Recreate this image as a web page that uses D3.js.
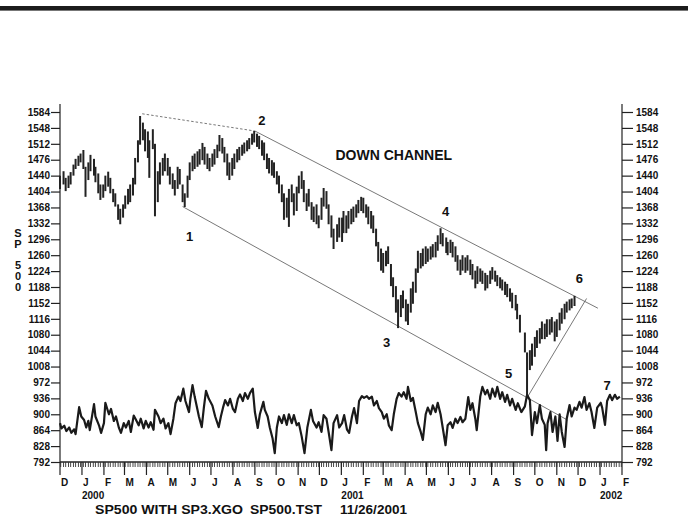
<!DOCTYPE html>
<html><head><meta charset="utf-8">
<script src="https://cdn.jsdelivr.net/npm/d3@7"></script>
<style>
body{margin:0;background:#fff}
svg{display:block}
text{font-family:"Liberation Sans",Arial,Helvetica,sans-serif;fill:#111}
</style>
</head><body>
<svg id="c" width="688" height="519"></svg>
<script>
// ---------- DATA ----------
// S&P 500 bars: [date, high, low]
const priceBars = [
["1999-12-01",1440,1410],["1999-12-06",1450,1420],["1999-12-09",1435,1405],["1999-12-13",1440,1412],["1999-12-16",1448,1420],
["1999-12-20",1465,1440],["1999-12-23",1478,1455],["1999-12-27",1485,1462],["1999-12-30",1490,1470],
["2000-01-03",1498,1455],["2000-01-06",1460,1392],["2000-01-10",1470,1430],["2000-01-13",1487,1450],["2000-01-18",1478,1440],
["2000-01-20",1460,1425],["2000-01-24",1445,1400],["2000-01-27",1420,1385],["2000-01-31",1420,1390],
["2000-02-03",1440,1405],["2000-02-07",1449,1415],["2000-02-10",1435,1400],["2000-02-14",1410,1380],["2000-02-17",1400,1370],
["2000-02-21",1375,1340],["2000-02-24",1365,1330],["2000-02-28",1375,1345],
["2000-03-02",1395,1365],["2000-03-06",1410,1375],["2000-03-09",1420,1380],["2000-03-13",1435,1395],["2000-03-16",1480,1420],
["2000-03-20",1520,1470],["2000-03-23",1575,1510],["2000-03-27",1560,1520],["2000-03-30",1545,1495],
["2000-04-03",1540,1480],["2000-04-05",1520,1435],["2000-04-10",1545,1500],["2000-04-13",1512,1348],["2000-04-17",1450,1380],
["2000-04-20",1470,1420],["2000-04-24",1480,1440],["2000-04-27",1490,1450],
["2000-05-01",1480,1440],["2000-05-04",1460,1420],["2000-05-08",1445,1410],["2000-05-11",1430,1395],["2000-05-15",1460,1410],
["2000-05-18",1455,1420],["2000-05-22",1420,1380],["2000-05-25",1400,1369],["2000-05-29",1440,1390],
["2000-06-01",1470,1430],["2000-06-05",1485,1450],["2000-06-08",1490,1455],["2000-06-12",1495,1460],["2000-06-15",1500,1465],
["2000-06-19",1514,1475],["2000-06-22",1505,1465],["2000-06-26",1490,1455],["2000-06-29",1480,1450],
["2000-07-03",1490,1460],["2000-07-06",1500,1465],["2000-07-10",1510,1480],["2000-07-13",1532,1495],["2000-07-17",1525,1490],
["2000-07-20",1505,1470],["2000-07-24",1490,1440],["2000-07-27",1470,1430],["2000-07-31",1480,1440],
["2000-08-03",1490,1455],["2000-08-07",1500,1470],["2000-08-10",1505,1475],["2000-08-14",1510,1485],["2000-08-17",1515,1490],
["2000-08-21",1520,1495],["2000-08-24",1525,1500],["2000-08-28",1535,1510],["2000-08-31",1541,1515],
["2000-09-04",1535,1505],["2000-09-07",1530,1500],["2000-09-11",1520,1485],["2000-09-14",1515,1475],["2000-09-18",1490,1455],
["2000-09-21",1480,1445],["2000-09-25",1475,1440],["2000-09-28",1470,1435],
["2000-10-02",1450,1420],["2000-10-05",1440,1400],["2000-10-09",1420,1380],["2000-10-12",1400,1340],["2000-10-16",1390,1345],
["2000-10-19",1410,1324],["2000-10-23",1420,1380],["2000-10-26",1400,1350],["2000-10-30",1415,1360],
["2000-11-02",1440,1400],["2000-11-06",1450,1410],["2000-11-09",1430,1380],["2000-11-13",1400,1360],["2000-11-16",1410,1370],
["2000-11-20",1380,1340],["2000-11-23",1370,1335],["2000-11-27",1375,1330],["2000-11-30",1350,1321],
["2000-12-04",1390,1340],["2000-12-07",1412,1370],["2000-12-11",1405,1365],["2000-12-14",1375,1330],["2000-12-18",1350,1300],
["2000-12-21",1320,1274],["2000-12-26",1330,1290],["2000-12-29",1345,1300],
["2001-01-02",1345,1290],["2001-01-04",1360,1310],["2001-01-08",1350,1310],["2001-01-11",1360,1320],["2001-01-15",1365,1330],
["2001-01-18",1370,1335],["2001-01-22",1375,1345],["2001-01-25",1385,1355],["2001-01-29",1392,1360],
["2001-02-01",1390,1355],["2001-02-05",1375,1345],["2001-02-08",1370,1330],["2001-02-12",1360,1320],["2001-02-15",1350,1310],
["2001-02-19",1320,1280],["2001-02-22",1290,1245],["2001-02-26",1275,1225],
["2001-03-01",1265,1220],["2001-03-05",1270,1235],["2001-03-08",1280,1240],["2001-03-12",1240,1190],["2001-03-15",1210,1165],
["2001-03-19",1190,1130],["2001-03-22",1160,1095],["2001-03-26",1170,1120],["2001-03-29",1180,1140],
["2001-04-02",1160,1110],["2001-04-05",1150,1102],["2001-04-09",1185,1130],["2001-04-12",1200,1150],["2001-04-16",1230,1175],
["2001-04-19",1270,1220],["2001-04-23",1265,1230],["2001-04-26",1275,1235],["2001-04-30",1280,1240],
["2001-05-03",1275,1245],["2001-05-07",1280,1250],["2001-05-10",1285,1255],["2001-05-14",1290,1255],["2001-05-17",1305,1270],
["2001-05-21",1321,1285],["2001-05-24",1310,1280],["2001-05-29",1300,1265],["2001-05-31",1290,1260],
["2001-06-04",1295,1265],["2001-06-07",1290,1255],["2001-06-11",1280,1245],["2001-06-14",1260,1225],["2001-06-18",1250,1215],
["2001-06-21",1260,1225],["2001-06-25",1255,1220],["2001-06-28",1260,1225],
["2001-07-02",1250,1215],["2001-07-05",1240,1205],["2001-07-09",1225,1185],["2001-07-12",1235,1195],["2001-07-16",1230,1200],
["2001-07-19",1225,1195],["2001-07-23",1220,1180],["2001-07-26",1215,1185],["2001-07-30",1225,1195],
["2001-08-02",1233,1205],["2001-08-06",1225,1200],["2001-08-09",1215,1190],["2001-08-13",1210,1185],["2001-08-16",1205,1180],
["2001-08-20",1200,1170],["2001-08-23",1195,1165],["2001-08-27",1185,1155],["2001-08-30",1175,1140],
["2001-09-04",1170,1135],["2001-09-06",1150,1115],["2001-09-10",1125,1085],["2001-09-17",1085,1040],["2001-09-20",1040,940],
["2001-09-24",1045,1000],["2001-09-27",1060,1010],
["2001-10-01",1075,1030],["2001-10-04",1090,1050],["2001-10-08",1095,1060],["2001-10-11",1110,1070],["2001-10-15",1105,1070],
["2001-10-18",1115,1075],["2001-10-22",1115,1080],["2001-10-25",1120,1085],["2001-10-29",1110,1065],
["2001-11-01",1115,1075],["2001-11-05",1130,1090],["2001-11-08",1140,1105],["2001-11-12",1150,1115],["2001-11-15",1155,1130],
["2001-11-19",1160,1135],["2001-11-22",1162,1140],["2001-11-26",1168,1145]
];

// SP3.XGO oscillator: [date, value]
const oscPoints = [
["1999-12-01",880],["1999-12-03",868],["1999-12-07",874],["1999-12-10",862],["1999-12-14",870],["1999-12-17",858],
["1999-12-21",866],["1999-12-23",855],["1999-12-28",916],["1999-12-31",895],
["2000-01-04",887],["2000-01-07",870],["2000-01-10",885],["2000-01-12",864],["2000-01-18",923],["2000-01-20",895],
["2000-01-25",875],["2000-01-28",858],["2000-02-01",880],["2000-02-03",926],["2000-02-08",900],["2000-02-11",912],
["2000-02-15",885],["2000-02-18",895],["2000-02-22",870],["2000-02-25",858],["2000-02-29",880],["2000-03-03",870],
["2000-03-07",885],["2000-03-10",860],["2000-03-14",897],["2000-03-17",888],["2000-03-21",875],["2000-03-24",890],
["2000-03-28",868],["2000-03-31",885],["2000-04-04",870],["2000-04-07",882],["2000-04-11",865],["2000-04-13",910],
["2000-04-18",895],["2000-04-21",880],["2000-04-25",890],["2000-04-28",868],["2000-05-02",880],["2000-05-05",855],
["2000-05-09",890],["2000-05-12",925],["2000-05-16",940],["2000-05-19",930],["2000-05-23",958],["2000-05-26",930],
["2000-05-31",905],["2000-06-02",935],["2000-06-05",966],["2000-06-08",940],["2000-06-12",910],["2000-06-14",895],
["2000-06-18",871],["2000-06-21",915],["2000-06-24",953],["2000-06-28",935],["2000-07-03",920],["2000-07-07",895],
["2000-07-12",871],["2000-07-15",895],["2000-07-18",915],["2000-07-21",932],["2000-07-25",920],["2000-07-28",935],
["2000-08-01",912],["2000-08-04",905],["2000-08-08",935],["2000-08-11",945],["2000-08-15",930],["2000-08-18",948],
["2000-08-22",935],["2000-08-25",948],["2000-08-29",958],["2000-09-01",905],["2000-09-05",869],["2000-09-08",900],
["2000-09-13",928],["2000-09-15",910],["2000-09-19",895],["2000-09-22",870],["2000-09-26",845],["2000-09-29",812],
["2000-10-02",870],["2000-10-05",895],["2000-10-09",880],["2000-10-12",898],["2000-10-16",876],["2000-10-19",900],
["2000-10-23",880],["2000-10-26",898],["2000-10-30",875],["2000-11-02",880],["2000-11-06",850],["2000-11-10",812],
["2000-11-14",870],["2000-11-19",910],["2000-11-22",885],["2000-11-27",870],["2000-11-30",882],["2000-12-04",860],
["2000-12-07",898],["2000-12-11",890],["2000-12-14",860],["2000-12-18",819],["2000-12-21",880],["2000-12-26",898],
["2000-12-29",870],
["2001-01-02",880],["2001-01-05",898],["2001-01-09",865],["2001-01-12",858],["2001-01-16",895],["2001-01-19",914],
["2001-01-23",880],["2001-01-26",930],["2001-01-30",941],["2001-02-02",937],["2001-02-06",941],["2001-02-09",935],
["2001-02-13",940],["2001-02-16",920],["2001-02-20",930],["2001-02-23",914],["2001-02-27",905],["2001-03-02",890],
["2001-03-06",900],["2001-03-09",875],["2001-03-13",864],["2001-03-16",900],["2001-03-20",935],["2001-03-23",948],
["2001-03-27",940],["2001-03-30",950],["2001-04-03",935],["2001-04-05",962],["2001-04-09",930],["2001-04-12",937],
["2001-04-16",905],["2001-04-19",880],["2001-04-23",860],["2001-04-26",842],["2001-04-30",900],["2001-05-03",915],
["2001-05-07",900],["2001-05-10",920],["2001-05-14",905],["2001-05-17",926],["2001-05-21",900],["2001-05-24",870],
["2001-05-28",830],["2001-05-31",875],["2001-06-04",882],["2001-06-07",869],["2001-06-11",890],["2001-06-14",880],
["2001-06-18",894],["2001-06-21",882],["2001-06-25",890],["2001-06-29",939],["2001-07-02",910],["2001-07-05",925],
["2001-07-09",890],["2001-07-11",864],["2001-07-16",940],["2001-07-19",962],["2001-07-23",945],["2001-07-26",955],
["2001-07-30",935],["2001-08-02",958],["2001-08-06",940],["2001-08-09",962],["2001-08-13",935],["2001-08-16",950],
["2001-08-20",928],["2001-08-23",944],["2001-08-27",920],["2001-08-30",935],["2001-09-04",910],["2001-09-07",925],
["2001-09-12",905],["2001-09-17",918],["2001-09-20",944],["2001-09-24",932],["2001-09-27",853],["2001-10-01",905],
["2001-10-04",880],["2001-10-08",921],["2001-10-11",890],["2001-10-15",876],["2001-10-17",819],["2001-10-19",880],
["2001-10-23",905],["2001-10-26",860],["2001-10-30",895],["2001-11-02",840],["2001-11-05",900],["2001-11-08",860],
["2001-11-12",826],["2001-11-15",890],["2001-11-19",921],["2001-11-22",895],["2001-11-26",915],["2001-11-29",910],
["2001-12-03",928],["2001-12-06",915],["2001-12-10",939],["2001-12-13",910],["2001-12-17",925],["2001-12-20",905],
["2001-12-24",869],["2001-12-28",915],["2002-01-02",926],["2002-01-04",915],["2002-01-08",876],["2002-01-11",930],
["2002-01-15",944],["2002-01-18",932],["2002-01-22",944],["2002-01-25",935],["2002-01-29",940]
];

const yTicks = [1584,1548,1512,1476,1440,1404,1368,1332,1296,1260,1224,1188,1152,1116,1080,1044,1008,972,936,900,864,828,792];
const yearLabels = [["2000-01-01","2000"],["2001-01-01","2001"],["2002-01-01","2002"]];
const sideLetters = ["S","P","","5","0","0"];

// trend lines: [startDate, startValue, endDate, endValue, dashed]
const trendLines = [
["2000-03-26",1580,"2000-09-01",1541,true],
["2000-09-01",1541,"2001-12-29",1140,false],
["2000-05-22",1370,"2001-11-16",887,false],
["2001-09-21",940,"2001-12-13",1162,false]
];
// wave labels: [date, value, text]
const waveLabels = [
["2000-06-01",1292,"1"],["2000-09-11",1555,"2"],["2001-03-06",1052,"3"],["2001-05-28",1349,"4"],
["2001-08-25",982,"5"],["2001-12-03",1197,"6"],["2002-01-11",955,"7"]
];
const channelLabel = ["2001-03-16",1475,"DOWN CHANNEL"];
const titleParts = ["SP500 WITH SP3.XGO","SP500.TST","11/26/2001"];

// ---------- CHART ----------
const parse = d3.timeParse("%Y-%m-%d");
const svg = d3.select("#c");
const x = d3.scaleTime().domain([parse("1999-12-01"), parse("2002-02-01")]).range([60, 622]);
const y = d3.scaleLinear().domain([792, 1584]).range([462, 112]);

// top bar
svg.append("rect").attr("x",0).attr("y",6).attr("width",688).attr("height",4).attr("fill","#1c1c1c");
svg.append("rect").attr("x",0).attr("y",10).attr("width",688).attr("height",1).attr("fill","#777");

// axes frame lines
const axisTop = 104;
svg.append("line").attr("x1",x.range()[0]).attr("x2",x.range()[0]).attr("y1",axisTop).attr("y2",y(792)).attr("stroke","#222").attr("stroke-width",1.2);
svg.append("line").attr("x1",x.range()[1]).attr("x2",x.range()[1]).attr("y1",axisTop).attr("y2",y(792)).attr("stroke","#222").attr("stroke-width",1.2);

const left = svg.append("g").attr("transform",`translate(${x.range()[0]},0)`)
  .call(d3.axisLeft(y).tickValues(yTicks).tickSize(9).tickPadding(1).tickFormat(d3.format("d")));
const right = svg.append("g").attr("transform",`translate(${x.range()[1]},0)`)
  .call(d3.axisRight(y).tickValues(yTicks).tickSize(11).tickPadding(3).tickFormat(d3.format("d")));
[left,right].forEach(g=>{
  g.select(".domain").remove();
  g.selectAll(".tick line").attr("stroke","#222").attr("stroke-width",1.2);
  g.selectAll(".tick text").attr("font-size",10).attr("font-weight","bold").attr("fill","#111")
    .attr("font-family","'Liberation Sans',Arial,sans-serif");
});

// bottom axis
const y0 = y(792);
svg.append("line").attr("x1",x.range()[0]).attr("x2",x.range()[1]).attr("y1",y0).attr("y2",y0).attr("stroke","#222").attr("stroke-width",1.4);
const d0 = x.domain()[0], d1 = x.domain()[1];
const minor = d3.timeDay.range(d0, d1).filter(d => d.getDay()===1 || d.getDay()===4);
svg.append("g").selectAll("line").data(minor).join("line")
  .attr("x1",d=>x(d)).attr("x2",d=>x(d)).attr("y1",y0).attr("y2",y0+5)
  .attr("stroke","#333").attr("stroke-width",0.9);
const months = d3.timeMonth.range(d0, d3.timeDay.offset(d1,1));
svg.append("g").selectAll("line").data(months).join("line")
  .attr("x1",d=>x(d)).attr("x2",d=>x(d)).attr("y1",y0).attr("y2",y0+13)
  .attr("stroke","#222").attr("stroke-width",1.2);
svg.append("g").selectAll("text").data(months).join("text")
  .attr("x",d=>x(d)+1).attr("y",y0+23.5)
  .attr("font-size",10).attr("font-weight","bold")
  .text(d=>d3.timeFormat("%b")(d)[0]);
svg.append("g").selectAll("text").data(yearLabels).join("text")
  .attr("x",d=>x(parse(d[0]))).attr("y",y0+37)
  .attr("font-size",10).attr("font-weight","bold").text(d=>d[1]);

// side letters
svg.append("g").selectAll("text").data(sideLetters).join("text")
  .attr("x",18).attr("y",(d,i)=>237+i*10.8).attr("text-anchor","middle")
  .attr("font-size",11).attr("font-weight","bold").text(d=>d);

// trend lines
svg.append("g").selectAll("line").data(trendLines).join("line")
  .attr("x1",d=>x(parse(d[0]))).attr("y1",d=>y(d[1]))
  .attr("x2",d=>x(parse(d[2]))).attr("y2",d=>y(d[3]))
  .attr("stroke","#555").attr("stroke-width",0.8)
  .attr("stroke-dasharray",d=>d[4]?"2.5,2":null);

// oscillator
svg.append("path").datum(oscPoints)
  .attr("d", d3.line().x(d=>x(parse(d[0]))).y(d=>y(d[1])))
  .attr("fill","none").attr("stroke","#1a1a1a").attr("stroke-width",2.2).attr("stroke-linejoin","round");

// price bars
svg.append("g").selectAll("line").data(priceBars).join("line")
  .attr("x1",d=>x(parse(d[0]))).attr("x2",d=>x(parse(d[0])))
  .attr("y1",d=>y(d[1])).attr("y2",d=>y(d[2]))
  .attr("stroke","#222").attr("stroke-width",2);

// labels
svg.append("g").selectAll("text").data(waveLabels).join("text")
  .attr("x",d=>x(parse(d[0]))).attr("y",d=>y(d[1])).attr("text-anchor","middle")
  .attr("font-size",13).attr("font-weight","bold").text(d=>d[2]);
svg.append("text").attr("x",x(parse(channelLabel[0]))).attr("y",y(channelLabel[1]))
  .attr("text-anchor","middle").attr("font-size",14).attr("font-weight","bold").text(channelLabel[2]);

// title
const titleX = [95, 250, 340], titleW = [148, 72, 67];
svg.append("g").selectAll("text").data(titleParts).join("text")
  .attr("x",(d,i)=>titleX[i]).attr("y",514)
  .attr("font-size",13.5).attr("font-weight","bold")
  .attr("textLength",(d,i)=>titleW[i]).attr("lengthAdjust","spacingAndGlyphs")
  .text(d=>d);
</script>
</body></html>
